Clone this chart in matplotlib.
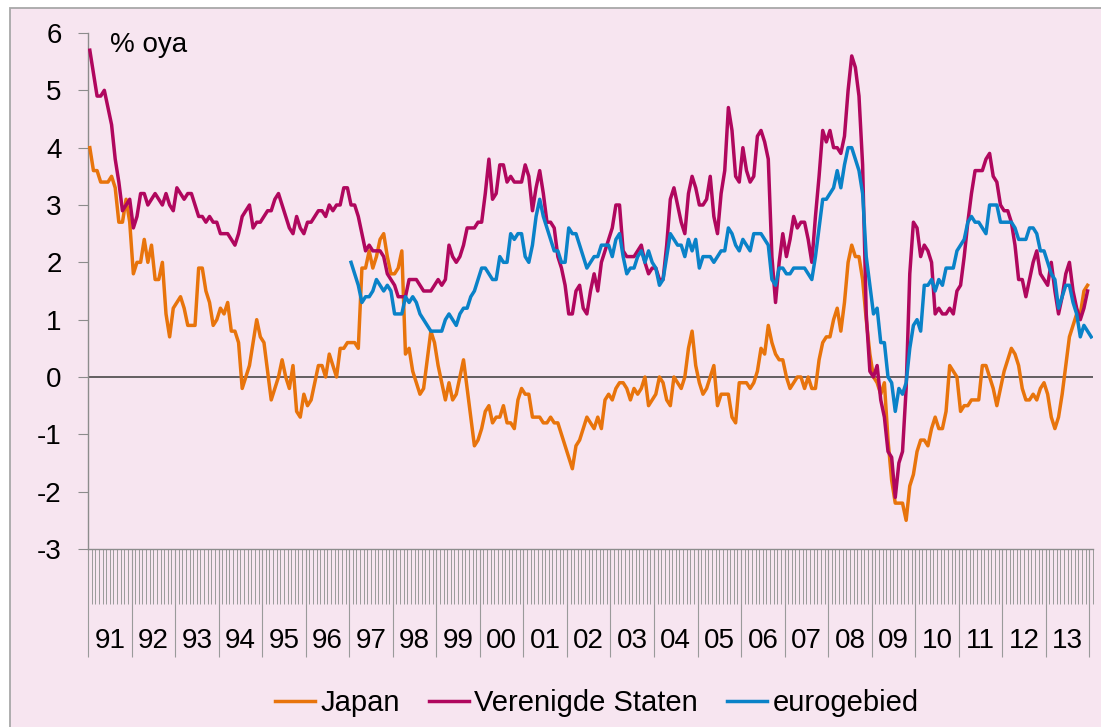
import numpy as np
import matplotlib
matplotlib.use('Agg')
import matplotlib.pyplot as plt
from matplotlib.patches import Rectangle
from matplotlib.lines import Line2D
import matplotlib.transforms as mtransforms

plt.rcParams['font.family'] = ['Liberation Sans', 'DejaVu Sans']

# ---------------- data (monthly, % oya) ----------------
years = ['91', '92', '93', '94', '95', '96', '97', '98', '99', '00', '01', '02',
         '03', '04', '05', '06', '07', '08', '09', '10', '11', '12', '13']

# Japan, Jan 1991 - Dec 2013
japan = [
    4.0, 3.6, 3.6, 3.4, 3.4, 3.4, 3.5, 3.3, 2.7, 2.7, 3.1, 2.7,        # 1991
    1.8, 2.0, 2.0, 2.4, 2.0, 2.3, 1.7, 1.7, 2.0, 1.1, 0.7, 1.2,        # 1992
    1.3, 1.4, 1.2, 0.9, 0.9, 0.9, 1.9, 1.9, 1.5, 1.3, 0.9, 1.0,        # 1993
    1.2, 1.1, 1.3, 0.8, 0.8, 0.6, -0.2, 0.0, 0.2, 0.6, 1.0, 0.7,       # 1994
    0.6, 0.1, -0.4, -0.2, 0.0, 0.3, 0.0, -0.2, 0.2, -0.6, -0.7, -0.3,  # 1995
    -0.5, -0.4, -0.1, 0.2, 0.2, 0.0, 0.4, 0.2, 0.0, 0.5, 0.5, 0.6,     # 1996
    0.6, 0.6, 0.5, 1.9, 1.9, 2.2, 1.9, 2.1, 2.4, 2.5, 2.1, 1.8,        # 1997
    1.8, 1.9, 2.2, 0.4, 0.5, 0.1, -0.1, -0.3, -0.2, 0.3, 0.8, 0.6,     # 1998
    0.2, -0.1, -0.4, -0.1, -0.4, -0.3, 0.0, 0.3, -0.2, -0.7, -1.2, -1.1,  # 1999
    -0.9, -0.6, -0.5, -0.8, -0.7, -0.7, -0.5, -0.8, -0.8, -0.9, -0.4, -0.2,  # 2000
    -0.3, -0.3, -0.7, -0.7, -0.7, -0.8, -0.8, -0.7, -0.8, -0.8, -1.0, -1.2,  # 2001
    -1.4, -1.6, -1.2, -1.1, -0.9, -0.7, -0.8, -0.9, -0.7, -0.9, -0.4, -0.3,  # 2002
    -0.4, -0.2, -0.1, -0.1, -0.2, -0.4, -0.2, -0.3, -0.2, 0.0, -0.5, -0.4,   # 2003
    -0.3, 0.0, -0.1, -0.4, -0.5, 0.0, -0.1, -0.2, 0.0, 0.5, 0.8, 0.2,        # 2004
    -0.1, -0.3, -0.2, 0.0, 0.2, -0.5, -0.3, -0.3, -0.3, -0.7, -0.8, -0.1,    # 2005
    -0.1, -0.1, -0.2, -0.1, 0.1, 0.5, 0.4, 0.9, 0.6, 0.4, 0.3, 0.3,          # 2006
    0.0, -0.2, -0.1, 0.0, 0.0, -0.2, 0.0, -0.2, -0.2, 0.3, 0.6, 0.7,         # 2007
    0.7, 1.0, 1.2, 0.8, 1.3, 2.0, 2.3, 2.1, 2.1, 1.7, 1.0, 0.4,              # 2008
    0.0, -0.1, -0.3, -0.1, -1.1, -1.8, -2.2, -2.2, -2.2, -2.5, -1.9, -1.7,   # 2009
    -1.3, -1.1, -1.1, -1.2, -0.9, -0.7, -0.9, -0.9, -0.6, 0.2, 0.1, 0.0,     # 2010
    -0.6, -0.5, -0.5, -0.4, -0.4, -0.4, 0.2, 0.2, 0.0, -0.2, -0.5, -0.2,     # 2011
    0.1, 0.3, 0.5, 0.4, 0.2, -0.2, -0.4, -0.4, -0.3, -0.4, -0.2, -0.1,       # 2012
    -0.3, -0.7, -0.9, -0.7, -0.3, 0.2, 0.7, 0.9, 1.1, 1.1, 1.5, 1.6,         # 2013
]

# Verenigde Staten, Jan 1991 - Dec 2013
us = [
    5.7, 5.3, 4.9, 4.9, 5.0, 4.7, 4.4, 3.8, 3.4, 2.9, 3.0, 3.1,   # 1991
    2.6, 2.8, 3.2, 3.2, 3.0, 3.1, 3.2, 3.1, 3.0, 3.2, 3.0, 2.9,   # 1992
    3.3, 3.2, 3.1, 3.2, 3.2, 3.0, 2.8, 2.8, 2.7, 2.8, 2.7, 2.7,   # 1993
    2.5, 2.5, 2.5, 2.4, 2.3, 2.5, 2.8, 2.9, 3.0, 2.6, 2.7, 2.7,   # 1994
    2.8, 2.9, 2.9, 3.1, 3.2, 3.0, 2.8, 2.6, 2.5, 2.8, 2.6, 2.5,   # 1995
    2.7, 2.7, 2.8, 2.9, 2.9, 2.8, 3.0, 2.9, 3.0, 3.0, 3.3, 3.3,   # 1996
    3.0, 3.0, 2.8, 2.5, 2.2, 2.3, 2.2, 2.2, 2.2, 2.1, 1.8, 1.7,   # 1997
    1.6, 1.4, 1.4, 1.4, 1.7, 1.7, 1.7, 1.6, 1.5, 1.5, 1.5, 1.6,   # 1998
    1.7, 1.6, 1.7, 2.3, 2.1, 2.0, 2.1, 2.3, 2.6, 2.6, 2.6, 2.7,   # 1999
    2.7, 3.2, 3.8, 3.1, 3.2, 3.7, 3.7, 3.4, 3.5, 3.4, 3.4, 3.4,   # 2000
    3.7, 3.5, 2.9, 3.3, 3.6, 3.2, 2.7, 2.7, 2.6, 2.1, 1.9, 1.6,   # 2001
    1.1, 1.1, 1.5, 1.6, 1.2, 1.1, 1.5, 1.8, 1.5, 2.0, 2.2, 2.4,   # 2002
    2.6, 3.0, 3.0, 2.2, 2.1, 2.1, 2.1, 2.2, 2.3, 2.0, 1.8, 1.9,   # 2003
    1.9, 1.7, 1.7, 2.3, 3.1, 3.3, 3.0, 2.7, 2.5, 3.2, 3.5, 3.3,   # 2004
    3.0, 3.0, 3.1, 3.5, 2.8, 2.5, 3.2, 3.6, 4.7, 4.3, 3.5, 3.4,   # 2005
    4.0, 3.6, 3.4, 3.5, 4.2, 4.3, 4.1, 3.8, 2.1, 1.3, 2.0, 2.5,   # 2006
    2.1, 2.4, 2.8, 2.6, 2.7, 2.7, 2.4, 2.0, 2.8, 3.5, 4.3, 4.1,   # 2007
    4.3, 4.0, 4.0, 3.9, 4.2, 5.0, 5.6, 5.4, 4.9, 3.7, 1.1, 0.1,   # 2008
    0.0, 0.2, -0.4, -0.7, -1.3, -1.4, -2.1, -1.5, -1.3, -0.2, 1.8, 2.7,  # 2009
    2.6, 2.1, 2.3, 2.2, 2.0, 1.1, 1.2, 1.1, 1.1, 1.2, 1.1, 1.5,   # 2010
    1.6, 2.1, 2.7, 3.2, 3.6, 3.6, 3.6, 3.8, 3.9, 3.5, 3.4, 3.0,   # 2011
    2.9, 2.9, 2.7, 2.3, 1.7, 1.7, 1.4, 1.7, 2.0, 2.2, 1.8, 1.7,   # 2012
    1.6, 2.0, 1.5, 1.1, 1.4, 1.8, 2.0, 1.5, 1.2, 1.0, 1.2, 1.5,   # 2013
]

# eurogebied, Jan 1997 - Jan 2014
euro_start = 72  # month index of Jan 1997
euro = [
    2.0, 1.8, 1.6, 1.3, 1.4, 1.4, 1.5, 1.7, 1.6, 1.5, 1.6, 1.5,   # 1997
    1.1, 1.1, 1.1, 1.4, 1.3, 1.4, 1.3, 1.1, 1.0, 0.9, 0.8, 0.8,   # 1998
    0.8, 0.8, 1.0, 1.1, 1.0, 0.9, 1.1, 1.2, 1.2, 1.4, 1.5, 1.7,   # 1999
    1.9, 1.9, 1.8, 1.7, 1.7, 2.1, 2.0, 2.0, 2.5, 2.4, 2.5, 2.5,   # 2000
    2.1, 2.0, 2.3, 2.8, 3.1, 2.8, 2.6, 2.4, 2.2, 2.2, 2.0, 2.0,   # 2001
    2.6, 2.5, 2.5, 2.3, 2.1, 1.9, 2.0, 2.1, 2.1, 2.3, 2.3, 2.3,   # 2002
    2.1, 2.4, 2.5, 2.1, 1.8, 1.9, 1.9, 2.1, 2.2, 2.0, 2.2, 2.0,   # 2003
    1.9, 1.6, 1.7, 2.1, 2.5, 2.4, 2.3, 2.3, 2.1, 2.4, 2.2, 2.4,   # 2004
    1.9, 2.1, 2.1, 2.1, 2.0, 2.1, 2.2, 2.2, 2.6, 2.5, 2.3, 2.2,   # 2005
    2.4, 2.3, 2.2, 2.5, 2.5, 2.5, 2.4, 2.3, 1.7, 1.6, 1.9, 1.9,   # 2006
    1.8, 1.8, 1.9, 1.9, 1.9, 1.9, 1.8, 1.7, 2.1, 2.6, 3.1, 3.1,   # 2007
    3.2, 3.3, 3.6, 3.3, 3.7, 4.0, 4.0, 3.8, 3.6, 3.2, 2.1, 1.6,   # 2008
    1.1, 1.2, 0.6, 0.6, 0.0, -0.1, -0.6, -0.2, -0.3, -0.1, 0.5, 0.9,  # 2009
    1.0, 0.8, 1.6, 1.6, 1.7, 1.5, 1.7, 1.6, 1.9, 1.9, 1.9, 2.2,   # 2010
    2.3, 2.4, 2.7, 2.8, 2.7, 2.7, 2.6, 2.5, 3.0, 3.0, 3.0, 2.7,   # 2011
    2.7, 2.7, 2.7, 2.6, 2.4, 2.4, 2.4, 2.6, 2.6, 2.5, 2.2, 2.2,   # 2012
    2.0, 1.8, 1.7, 1.2, 1.4, 1.6, 1.6, 1.3, 1.1, 0.7, 0.9, 0.8,   # 2013
    0.7,                                                           # 2014
]

labels = ['Japan', 'Verenigde Staten', 'eurogebied']
colors = ['#E8740C', '#B0075E', '#0A82C8']

# ---------------- figure ----------------
W, H = 1101, 727
FS = 20
bg = '#F7E5F0'
fig = plt.figure(figsize=(W / 100, H / 100), dpi=100)
fig.patch.set_facecolor('white')
frame = Rectangle((10 / W, -0.01), 1.0, 1.01 - 8 / H, transform=fig.transFigure,
                  facecolor=bg, edgecolor='#A8A8A8', lw=1.3, zorder=-10)
fig.patches.append(frame)

ax = fig.add_axes([88 / W, 1 - 549 / H, (1093 - 88) / W, (549 - 33) / H])
ax.set_facecolor('none')
ax.set_zorder(1)

n_cat = len(us) + 1  # categories incl. Jan 2014
x_main = np.arange(len(us))
x_euro = euro_start + np.arange(len(euro))

ax.axhline(0, color='#3A3A3A', lw=1.1, zorder=2)
ax.plot(x_main, japan, color=colors[0], lw=2.5, zorder=3, solid_joinstyle='round')
ax.plot(x_main, us, color=colors[1], lw=2.5, zorder=4, solid_joinstyle='round')
ax.plot(x_euro, euro, color=colors[2], lw=2.5, zorder=5, solid_joinstyle='round')

ax.set_xlim(-0.5, n_cat - 0.5)
ax.set_ylim(-3, 6)

for s in ['top', 'right']:
    ax.spines[s].set_visible(False)
for s in ['left', 'bottom']:
    ax.spines[s].set_color('#8C8C8C')
    ax.spines[s].set_linewidth(1.0)

ax.set_yticks(range(-3, 7))
ax.set_yticklabels([str(v) for v in range(-3, 7)])
ax.tick_params(axis='y', direction='out', length=7, width=0.8, color='#8C8C8C',
               labelsize=FS, pad=12, labelcolor='black')

major = np.arange(-0.5, len(years) * 12, 12)
minor = np.arange(-0.5, n_cat, 1.0)
ax.set_xticks(major)
ax.set_xticks(minor, minor=True)
ax.tick_params(axis='x', which='major', direction='out', length=78, width=0.8,
               color='#9A9A9A', labelbottom=False)
ax.tick_params(axis='x', which='minor', direction='out', length=39.6, width=0.7,
               color='#9A9A9A', labelbottom=False)

trans = mtransforms.blended_transform_factory(ax.transData, ax.transAxes)
for k, yl in enumerate(years):
    ax.text(12 * k + 5.5, (549 - 641) / 516, yl, transform=trans, ha='center',
            va='center', fontsize=FS, color='black')

fig.text(110 / W, 1 - 45 / H, '% oya', fontsize=FS, ha='left', va='center')

handles = [Line2D([0], [0], color=c, lw=2.5) for c in colors]
fig.legend(handles, labels, loc='center', bbox_to_anchor=(597 / W, 1 - 703 / H),
           ncol=3, frameon=False, fontsize=21, handlelength=1.35, handletextpad=0.2,
           columnspacing=1.0)

fig.savefig('out.png', dpi=100, facecolor=fig.get_facecolor())
